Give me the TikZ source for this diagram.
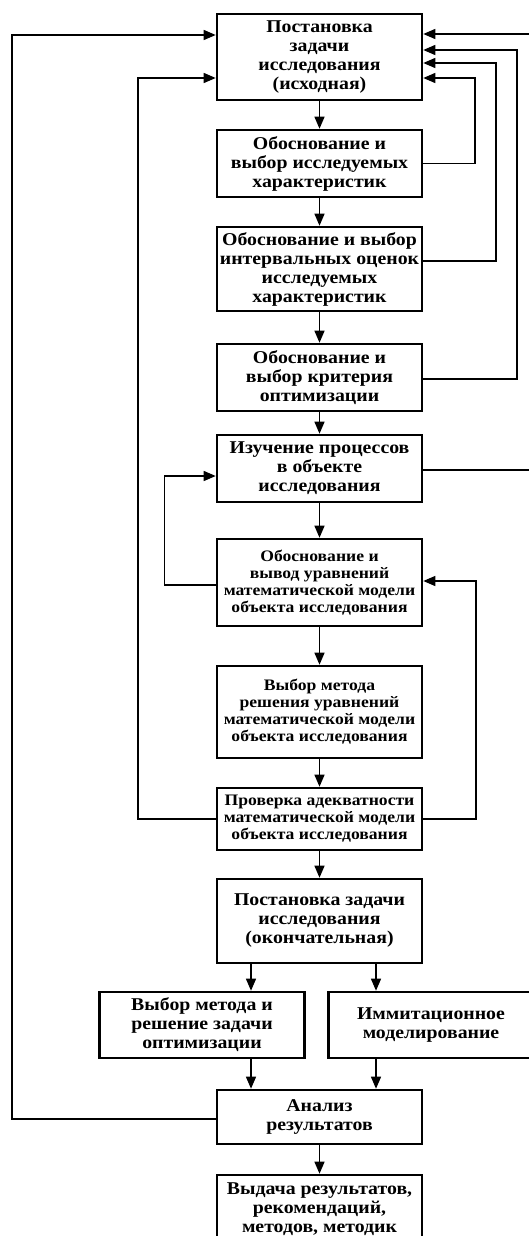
\documentclass[tikz,border=0pt]{standalone}
\usepackage{fontspec}
\setmainfont{Liberation Serif}[FakeStretch=1.1]
\usetikzlibrary{arrows.meta}
\begin{document}
\begin{tikzpicture}[x=1pt,y=-1pt,
  blk/.style={draw, line width=2.6pt, minimum width=205pt, align=center, inner sep=0pt,
    font=\fontsize{18}{19}\selectfont\bfseries},
  blks/.style={blk, font=\fontsize{16}{17}\selectfont\bfseries},
  conn/.style={line width=1.3pt, -{Triangle[length=12pt,width=10pt]}}]
\useasboundingbox (0,0) rectangle (529,1236);
\fill[white] (0,0) rectangle (529,1236);

\node[blk, minimum height=86pt] (b1) at (319.5,57) {Постановка\\задачи\\исследования\\(исходная)};
\node[blk, minimum height=67pt] (b2) at (319.5,163.5) {Обоснование и\\выбор исследуемых\\характеристик};
\node[blk, minimum height=84pt] (b3) at (319.5,269) {Обоснование и выбор\\интервальных оценок\\исследуемых\\характеристик};
\node[blk, minimum height=67pt] (b4) at (319.5,377.5) {Обоснование и\\выбор критерия\\оптимизации};
\node[blk, minimum height=67pt] (b5) at (319.5,468.5) {Изучение процессов\\в объекте\\исследования};
\node[blks, minimum height=87pt] (b6) at (319.5,582.5) {Обоснование и\\вывод уравнений\\математической модели\\объекта исследования};
\node[blks, minimum height=92pt] (b7) at (319.5,712) {Выбор метода\\решения уравнений\\математической модели\\объекта исследования};
\node[blks, minimum height=62pt] (b8) at (319.5,819) {Проверка адекватности\\математической модели\\объекта исследования};
\node[blk, minimum height=84pt] (b9) at (319.5,921) {Постановка задачи\\исследования\\(окончательная)};
\node[blk, minimum height=66pt] (b10) at (202,1025) {Выбор метода и\\решение задачи\\оптимизации};
\node[blk, minimum height=66pt] (b11) at (431,1025) {Иммитационное\\моделирование};
\node[blk, minimum height=54pt] (b12) at (319.5,1117) {Анализ\\результатов};
\node[blk, minimum height=68pt] (b13) at (319.5,1209) {Выдача результатов,\\рекомендаций,\\методов, методик};

\draw[conn] (b1) -- (b2);
\draw[conn] (b2) -- (b3);
\draw[conn] (b3) -- (b4);
\draw[conn] (b4) -- (b5);
\draw[conn] (b5) -- (b6);
\draw[conn] (b6) -- (b7);
\draw[conn] (b7) -- (b8);
\draw[conn] (b8) -- (b9);
\draw[conn] ([xshift=-68.5pt]b9.south) -- ([xshift=-68.5pt]b9.south |- b10.north);
\draw[conn] ([xshift=56.5pt]b9.south) -- ([xshift=56.5pt]b9.south |- b11.north);
\draw[conn] ([xshift=49pt]b10.south) -- ([xshift=49pt]b10.south |- b12.north);
\draw[conn] ([xshift=-55pt]b11.south) -- ([xshift=-55pt]b11.south |- b12.north);
\draw[conn] (b12) -- (b13);

% right feedback to b1
\draw[conn] (b2.east) -- (475,163.5) |- ([yshift=-21pt]b1.east);
\draw[conn] ([yshift=8pt]b3.east) -- (496,261) |- ([yshift=-6pt]b1.east);
\draw[conn] ([yshift=-1.5pt]b4.east) -- (517,379) |- ([yshift=7pt]b1.east);
\draw[conn] ([yshift=-1.5pt]b5.east) -- (532,470) |- ([yshift=23pt]b1.east);

% left feedback to b1
\draw[conn] (b8.west) -- (138,819) |- ([yshift=-21pt]b1.west);
\draw[conn] ([yshift=-2pt]b12.west) -- (12,1119) |- ([yshift=22pt]b1.west);

% inner loops
\draw[conn] ([yshift=-2.5pt]b6.west) -- (164.5,585) |- ([yshift=-7.5pt]b5.west);
\draw[conn] (b8.east) -- (476,819) |- ([yshift=1.5pt]b6.east);
\end{tikzpicture}
\end{document}
